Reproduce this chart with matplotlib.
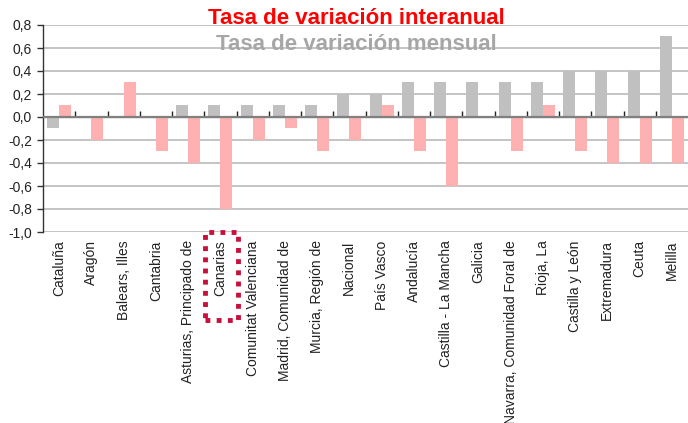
import matplotlib
matplotlib.use("Agg")
import matplotlib.pyplot as plt
from matplotlib.patches import Rectangle
import numpy as np

plt.rcParams['font.family'] = ['Liberation Sans', 'DejaVu Sans']

categories = ["Cataluña", "Aragón", "Balears, Illes", "Cantabria",
              "Asturias, Principado de", "Canarias", "Comunitat Valenciana",
              "Madrid, Comunidad de", "Murcia, Región de", "Nacional",
              "País Vasco", "Andalucía", "Castilla - La Mancha", "Galicia",
              "Navarra, Comunidad Foral de", "Rioja, La", "Castilla y León",
              "Extremadura", "Ceuta", "Melilla"]
mensual = [-0.1, 0.0, 0.0, 0.0, 0.1, 0.1, 0.1, 0.1, 0.1, 0.2,
           0.2, 0.3, 0.3, 0.3, 0.3, 0.3, 0.4, 0.4, 0.4, 0.7]
interanual = [0.1, -0.2, 0.3, -0.3, -0.4, -0.8, -0.2, -0.1, -0.3, -0.2,
              0.1, -0.3, -0.6, 0.0, -0.3, 0.1, -0.3, -0.4, -0.4, -0.4]
yticks = [-1.0, -0.8, -0.6, -0.4, -0.2, 0.0, 0.2, 0.4, 0.6, 0.8]
ytick_labels = ["-1,0", "-0,8", "-0,6", "-0,4", "-0,2", "0,0", "0,2", "0,4", "0,6", "0,8"]

W, H = 688, 423
fig = plt.figure(figsize=(W / 100, H / 100), dpi=100)
ax = fig.add_axes([43 / W, 1 - 232 / H, (688 - 43) / W, (232 - 25) / H])

x = np.arange(len(categories))
bw = 0.37
ax.bar(x - bw / 2, mensual, width=bw, color="#C0C0C0", zorder=3)
ax.bar(x + bw / 2, interanual, width=bw, color="#FFB0B0", zorder=3)

ax.set_xlim(-0.5, len(categories) - 0.5)
ax.set_ylim(-1.0, 0.8)
ax.set_yticks(yticks)
ax.set_yticklabels(ytick_labels, fontsize=10, color="#222222")
ax.yaxis.grid(True, color="#C4C4C4", linewidth=1.4, zorder=0)
ax.set_axisbelow(True)

ax.set_xticks(x)
ax.set_xticklabels(categories, rotation=90, fontsize=10, color="#222222")
ax.tick_params(axis='x', length=0, pad=6)
ax.tick_params(axis='y', direction='out', length=4, width=1, color="#333333", pad=4)

for s in ['top', 'right', 'bottom']:
    ax.spines[s].set_visible(False)
ax.spines['left'].set_color("#333333")
ax.spines['left'].set_linewidth(1.0)

ax.axhline(0, color="#808080", linewidth=1.6, zorder=4)
sec = ax.secondary_xaxis((0 - (-1.0)) / 1.8)
sec.set_xticks(np.arange(len(categories) + 1)[1:-1] - 0.5)
sec.set_xticklabels([])
sec.tick_params(direction='out', length=4, width=1, color="#222222")
sec.spines['bottom'].set_visible(False)

fig.text(356 / W, 1 - 18 / H, "Tasa de variación interanual", color="#FF0000",
         fontsize=16, fontweight='bold', ha='center', va='center')
fig.text(356 / W, 1 - 45 / H, "Tasa de variación mensual", color="#A6A6A6",
         fontsize=16, fontweight='bold', ha='center', va='center')

rect = Rectangle((205 / W, 1 - 320 / H), (238 - 205) / W, (320 - 232) / H,
                 transform=fig.transFigure, fill=False, edgecolor="#C8103C",
                 linewidth=3.5, linestyle=(0, (1, 1.3)))
fig.patches.append(rect)

fig.savefig("out.png", dpi=100)
